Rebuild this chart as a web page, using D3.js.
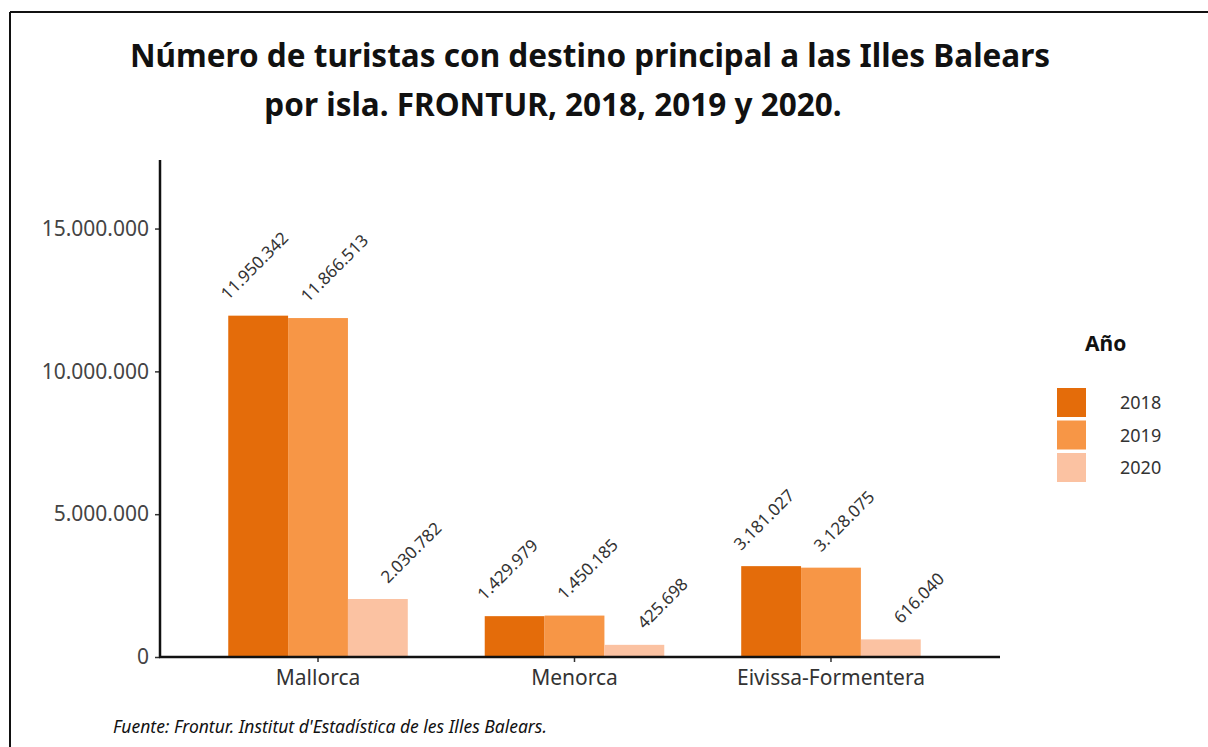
<!DOCTYPE html>
<html>
<head>
<meta charset="utf-8">
<script src="https://cdn.jsdelivr.net/npm/d3@7"></script>
<style>
  body { margin: 0; background: #fff; }
  text { font-family: "Noto Sans", "Open Sans", sans-serif; }
</style>
</head>
<body>
<svg id="chart" width="1208" height="747"></svg>
<script>
// data
const islands = ['Mallorca', 'Menorca', 'Eivissa-Formentera'];
const years = ['2018', '2019', '2020'];
const v2018 = [11950342, 1429979, 3181027];
const v2019 = [11866513, 1450185, 3128075];
const v2020 = [2030782, 425698, 616040];
const yTicks = [0, 5000000, 10000000, 15000000];
const colors = ['#e46c0a', '#f79646', '#fbc2a2'];

const rows = islands.flatMap((isla, i) => [
  { isla, year: '2018', value: v2018[i] },
  { isla, year: '2019', value: v2019[i] },
  { isla, year: '2020', value: v2020[i] },
]);

const svg = d3.select('#chart');
const fmt = d3.formatLocale({ decimal: ',', thousands: '.', grouping: [3], currency: ['', '€'] }).format(',d');

// frame
svg.append('line').attr('x1', 10).attr('x2', 1208).attr('y1', 12).attr('y2', 12)
  .attr('stroke', '#111').attr('stroke-width', 2);
svg.append('line').attr('x1', 10).attr('x2', 10).attr('y1', 12).attr('y2', 747)
  .attr('stroke', '#111').attr('stroke-width', 2);

// title
svg.append('text').attr('x', 590).attr('y', 67).attr('text-anchor', 'middle')
  .style('font-size', '31.5px').style('font-weight', 'bold').attr('fill', '#111')
  .text('Número de turistas con destino principal a las Illes Balears');
svg.append('text').attr('x', 553).attr('y', 116).attr('text-anchor', 'middle')
  .style('font-size', '31.5px').style('font-weight', 'bold').attr('fill', '#111')
  .text('por isla. FRONTUR, 2018, 2019 y 2020.');

const x0 = d3.scaleBand().domain(islands).range([159, 990]).paddingInner(0.3).paddingOuter(0.27);
const x1 = d3.scaleBand().domain(years).range([0, x0.bandwidth()]);
const xl = d3.scaleBand().domain(years).range([-130, 110]); // label positions, wider than bars
const color = d3.scaleOrdinal().domain(years).range(colors);
const y = d3.scaleLinear().domain([0, 17400000]).range([657, 160]);

// bars
svg.append('g').selectAll('rect').data(rows).join('rect')
  .attr('x', d => x0(d.isla) + x1(d.year))
  .attr('y', d => y(d.value))
  .attr('width', x1.bandwidth())
  .attr('height', d => y(0) - y(d.value))
  .attr('fill', d => color(d.year));

// value labels
svg.append('g').selectAll('text').data(rows).join('text')
  .attr('transform', d => {
    const cx = x0(d.isla) + x0.bandwidth() / 2 + xl(d.year) + xl.bandwidth() / 2;
    return `translate(${cx},${y(d.value) - 15}) rotate(-45)`;
  })
  .style('font-size', '17px').attr('fill', '#333')
  .text(d => fmt(d.value));

// y axis
const yAxis = svg.append('g').attr('transform', 'translate(160,0)')
  .call(d3.axisLeft(y).tickValues(yTicks).tickFormat(fmt).tickSize(5).tickPadding(6));
yAxis.select('.domain').remove();
yAxis.selectAll('line').attr('stroke', '#333').attr('stroke-width', 1.5);
yAxis.selectAll('text').style('font-size', '21px').attr('fill', '#444')
  .style('font-family', '"Noto Sans", sans-serif');
svg.append('line').attr('x1', 160).attr('x2', 160).attr('y1', 160).attr('y2', 658)
  .attr('stroke', '#111').attr('stroke-width', 2.5);

// x axis
const xAxis = svg.append('g').attr('transform', 'translate(0,657)')
  .call(d3.axisBottom(x0).tickSize(5).tickPadding(8));
xAxis.select('.domain').remove();
xAxis.selectAll('line').attr('stroke', '#333').attr('stroke-width', 1.5);
xAxis.selectAll('text').style('font-size', '21px').attr('fill', '#333')
  .style('font-family', '"Noto Sans", sans-serif');
svg.append('line').attr('x1', 159).attr('x2', 1000).attr('y1', 657).attr('y2', 657)
  .attr('stroke', '#111').attr('stroke-width', 2.5);

// legend
svg.append('text').attr('x', 1085).attr('y', 351).style('font-size', '21px')
  .style('font-weight', 'bold').attr('fill', '#111').text('Año');
const leg = svg.append('g').selectAll('g').data(years).join('g')
  .attr('transform', (d, i) => `translate(1057,${388 + i * 32.5})`);
leg.append('rect').attr('width', 29).attr('height', 29).attr('fill', d => color(d));
leg.append('text').attr('x', 63).attr('y', 21).style('font-size', '18px')
  .attr('fill', '#333').text(d => d);

// source
svg.append('text').attr('x', 113).attr('y', 733).style('font-size', '17.5px')
  .style('font-style', 'italic').attr('fill', '#111')
  .text("Fuente: Frontur. Institut d'Estadística de les Illes Balears.");
</script>
</body>
</html>
